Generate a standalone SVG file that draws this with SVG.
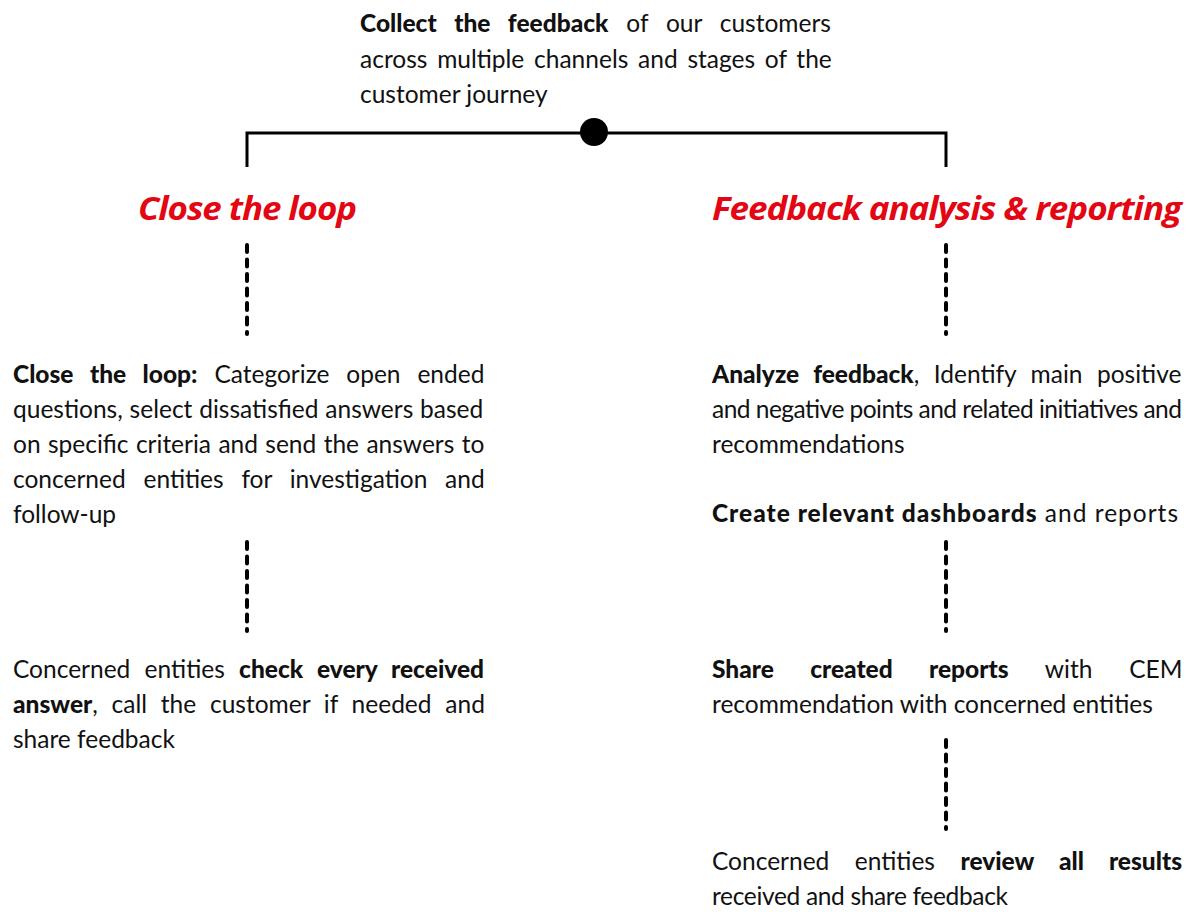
<svg xmlns="http://www.w3.org/2000/svg" width="1188" height="912" viewBox="0 0 1188 912">
<style>
.t{font-family:Lato,"Open Sans","Liberation Sans",sans-serif;font-size:24.5px;fill:#111;}
.b{font-weight:900;}
.h{font-family:"Open Sans",Lato,"Liberation Sans",sans-serif;font-size:33px;font-weight:700;font-style:italic;fill:#e30613;letter-spacing:-1px;}
.ln{stroke:#000;stroke-width:3;fill:none;}
.d{stroke:#000;stroke-width:4;stroke-linecap:round;stroke-dasharray:7 7.5;fill:none;}
</style>
<rect width="1188" height="912" fill="#fff"/>
<g id="connectors">
<path class="ln" d="M247,167 V133 H946 V167"/>
<circle cx="594" cy="132" r="14" fill="#000"/>
<line class="d" x1="247" y1="245" x2="247" y2="334"/>
<line class="d" x1="247" y1="542" x2="247" y2="631"/>
<line class="d" x1="946" y1="245" x2="946" y2="334"/>
<line class="d" x1="946" y1="542" x2="946" y2="631"/>
<line class="d" x1="946" y1="740" x2="946" y2="829"/>
</g>
<g id="collect">
<text class="t" x="360" y="32" style="word-spacing:11.6px"><tspan class="b">Collect the feedback</tspan> of our customers</text>
<text class="t" x="360" y="68" style="word-spacing:3.5px">across multiple channels and stages of the</text>
<text class="t" x="360" y="103">customer journey</text>
</g>
<g id="title-close">
<text class="h" x="138" y="220" textLength="218" lengthAdjust="spacingAndGlyphs">Close the loop</text>
</g>
<g id="title-analysis">
<text class="h" x="712" y="220" textLength="469" lengthAdjust="spacingAndGlyphs">Feedback analysis &amp; reporting</text>
</g>
<g id="close-loop">
<text class="t" x="13" y="383" style="word-spacing:10.6px"><tspan class="b">Close the loop:</tspan> Categorize open ended</text>
<text class="t" x="13" y="418" style="word-spacing:0.6px">questions, select dissatisfied answers based</text>
<text class="t" x="13" y="453" style="word-spacing:1.1px">on specific criteria and send the answers to</text>
<text class="t" x="13" y="488" style="word-spacing:11.5px">concerned entities for investigation and</text>
<text class="t" x="13" y="523">follow-up</text>
</g>
<g id="check-answer">
<text class="t" x="13" y="678" style="word-spacing:8px">Concerned entities <tspan class="b">check every received</tspan></text>
<text class="t" x="13" y="713" style="word-spacing:7.5px"><tspan class="b">answer</tspan>, call the customer if needed and</text>
<text class="t" x="13" y="748">share feedback</text>
</g>
<g id="analyze">
<text class="t" x="712" y="383" style="word-spacing:8.2px"><tspan class="b">Analyze feedback</tspan>, Identify main positive</text>
<text class="t" x="712" y="418" textLength="470" lengthAdjust="spacing">and negative points and related initiatives and</text>
<text class="t" x="712" y="453">recommendations</text>
</g>
<g id="dashboards">
<text class="t" x="712" y="522" textLength="466" lengthAdjust="spacing"><tspan class="b">Create relevant dashboards</tspan> and reports</text>
</g>
<g id="share-reports">
<text class="t" x="712" y="678" style="word-spacing:30.5px"><tspan class="b">Share created reports</tspan> with CEM</text>
<text class="t" x="712" y="713">recommendation with concerned entities</text>
</g>
<g id="review">
<text class="t" x="712" y="870" style="word-spacing:19.2px">Concerned entities <tspan class="b">review all results</tspan></text>
<text class="t" x="712" y="905" textLength="296" lengthAdjust="spacing">received and share feedback</text>
</g>
</svg>
